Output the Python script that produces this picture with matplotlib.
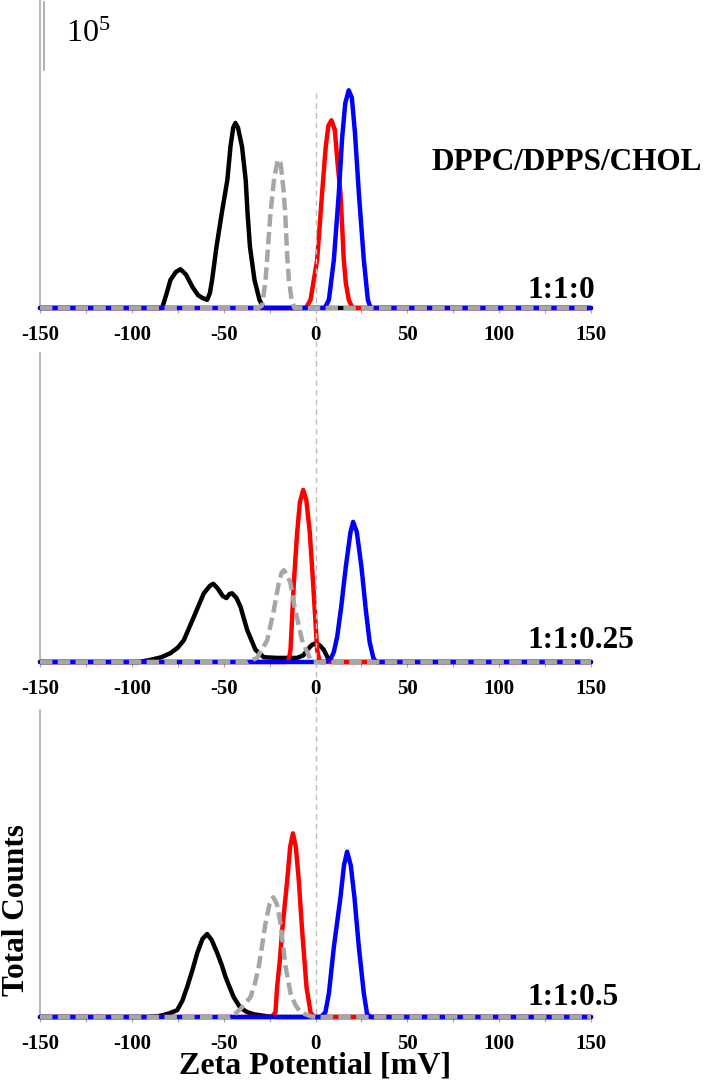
import matplotlib
matplotlib.use('Agg')
import matplotlib.pyplot as plt
from matplotlib.lines import Line2D

# ---------------- data (x: zeta potential mV, y: counts in units of 10^3) ----------------
panel_labels = ['1:1:0', '1:1:0.25', '1:1:0.5']
title_text = 'DPPC/DPPS/CHOL'
xticks_major = [-150, -100, -50, 0, 50, 100, 150]
xticks_minor = [-125, -75, -25, 25, 75, 125]

# Panel 1 (1:1:0)
p1_black_x = [-150, -83.5, -81, -79, -76, -73.5, -70.5, -67, -64, -61.7, -59, -57.5, -56.3, -53.9, -51, -48,
              -46.3, -44.8, -43.6, -42.2, -40, -38, -37, -35.7, -33.2, -30.5, -28.5, -27, 150]
p1_black_y = [0, 0, 22, 41, 53, 57, 49, 31, 19, 15, 12, 22, 41, 90, 140, 188,
              237, 265, 272, 265, 237, 188, 140, 90, 41, 12, 1, 0, 0]
p1_gray_x = [-150, -31, -29, -27.2, -24.5, -22.5, -20.5, -19, -17.5, -16.5, -15.5, -14.5, -13, -11.5, 150]
p1_gray_y = [0, 0, 4, 41, 140, 191, 218, 213, 176, 140, 81, 41, 12, 0, 0]
p1_red_x = [-150, -7, -5, -2.7, 0.9, 3.6, 5.5, 7, 8.7, 10.5, 12, 13.6, 15.4, 16.5, 18.1, 20, 21, 150]
p1_red_y = [0, 0, 1, 12, 71, 169, 235, 268, 276, 262, 213, 169, 71, 37, 12, 1, 0, 0]
p1_blue_x = [-150, 5, 7.3, 10, 12.7, 14.5, 16.2, 18.1, 19.8, 21.5, 23.6, 26.3, 28.5, 30, 150]
p1_blue_y = [0, 0, 12, 71, 169, 250, 301, 320, 309, 257, 169, 71, 12, 0, 0]

# Panel 2 (1:1:0.25)
p2_black_x = [-150, -96, -90, -84, -79, -75, -71.7, -66.3, -60.8, -57.5, -55.7, -53.5, -50.5, -48.5, -46.8,
              -45.4, -43, -40.8, -37.2, -32.7, -28.1, -20.9, -10, -6.5, -4.5, -2, 0.4, 2.5, 4.5, 6.5, 8.2, 10, 150]
p2_black_y = [0, 0, 3, 7, 13, 21, 32, 66, 101, 112, 115, 109, 97, 94, 100,
              101, 94, 81, 47, 18, 7, 6, 6, 10, 18, 25, 28, 24, 18, 7, 1, 0, 0]
p2_gray_x = [-150, -37, -31.8, -26.3, -22.7, -20, -18.5, -17.2, -15.5, -13.6, -11.4, -7.3, -2.7, -1, 150]
p2_gray_y = [0, 0, 6, 32, 76, 116, 131, 135, 128, 116, 81, 32, 3, 0, 0]
p2_red_x = [-150, -16, -14.5, -13.6, -11.8, -10, -8.5, -6.7, -5, -3.1, -1.3, 0.9, 2, 3, 150]
p2_red_y = [0, 0, 4, 18, 116, 190, 235, 253, 238, 190, 116, 18, 3, 0, 0]
p2_blue_x = [-150, 5, 8.2, 10, 11.8, 14, 16.5, 19, 20.5, 22.5, 25, 27.5, 29.5, 31.5, 33, 150]
p2_blue_y = [0, 0, 4, 15, 37, 81, 140, 190, 206, 191, 140, 74, 29, 6, 0, 0]

# Panel 3 (1:1:0.5)
p3_black_x = [-150, -92, -86, -82.6, -79, -75.3, -72.5, -69.9, -67, -64.4, -61.5, -59, -56.5, -53.5, -51,
              -49, -46.8, -44.5, -40.8, -37, -33.6, -26.3, -20.9, 150]
p3_black_y = [0, 0, 1, 3, 6, 10, 24, 44, 69, 94, 115, 122, 113, 94, 76,
              59, 44, 29, 13, 7, 4, 1, 0, 0]
p3_gray_x = [-150, -47, -45.4, -40.8, -35.4, -33, -30.9, -29, -27.2, -25, -23, -21, -19.1, -16.3, -13.6,
             -11, -8.2, -2.7, 0, 150]
p3_gray_y = [0, 0, 1, 12, 29, 49, 74, 106, 138, 166, 176, 166, 138, 74, 35,
             18, 7, 1, 0, 0]
p3_red_x = [-150, -24, -21.8, -20.9, -19.5, -18.1, -15.4, -13.8, -12.3, -10.7, -9.1, -7.3, -4.9, -2.7, -1, 150]
p3_red_y = [0, 0, 7, 44, 81, 128, 201, 250, 270, 250, 201, 128, 44, 7, 0, 0]
p3_blue_x = [-150, 3, 5.4, 7.3, 10, 13.6, 15.5, 17.2, 19.2, 21.2, 23.6, 26.3, 28.1, 30, 150]
p3_blue_y = [0, 0, 7, 35, 103, 176, 223, 243, 223, 176, 103, 35, 4, 0, 0]

scale_bar_value = 100  # 10^5 counts = 100 x 10^3

# ---------------- figure ----------------
W, H = 708, 1080
fig = plt.figure(figsize=(W / 100, H / 100), dpi=100)
SERIF = ['Liberation Serif', 'DejaVu Serif']
AXIS_GRAY = '#a3a3a3'
LW = 3.2

def fx(px):
    return px / W

def fy(py):
    return 1 - py / H

left_px, right_px = 40, 591
panel_px = [(0, 308), (353, 662), (710, 1017)]  # (top, bottom) in pixels
ymax = 308 * 1.47

panels = [
    (p1_black_x, p1_black_y, p1_gray_x, p1_gray_y, p1_red_x, p1_red_y, p1_blue_x, p1_blue_y),
    (p2_black_x, p2_black_y, p2_gray_x, p2_gray_y, p2_red_x, p2_red_y, p2_blue_x, p2_blue_y),
    (p3_black_x, p3_black_y, p3_gray_x, p3_gray_y, p3_red_x, p3_red_y, p3_blue_x, p3_blue_y),
]

axes = []
for (top, bot), data in zip(panel_px, panels):
    ax = fig.add_axes([fx(left_px), fy(bot), fx(right_px - left_px), (bot - top) / H])
    ax.set_facecolor('none')
    bx, by, gx, gy, rx, ry, ux, uy = data
    kw = dict(lw=LW, clip_on=False, solid_joinstyle='round', solid_capstyle='round')
    ax.plot(bx, by, color='black', zorder=3, **kw)
    ax.plot(rx, ry, color='#ff0000', zorder=4, **kw)
    ax.plot(ux, uy, color='#0000ff', zorder=5, **kw)
    ax.plot(gx, gy, color='#a6a6a6', lw=LW, clip_on=False, zorder=6, linestyle=(0, (2.8, 1.2)),
            dash_joinstyle='round')
    ax.set_xlim(-150, 150)
    ax.set_ylim(0, ymax * (bot - top) / 308)
    ax.set_yticks([])
    for s in ['top', 'right']:
        ax.spines[s].set_visible(False)
    ax.spines['left'].set_color(AXIS_GRAY)
    ax.spines['left'].set_linewidth(1.1)
    ax.spines['bottom'].set_color(AXIS_GRAY)
    ax.spines['bottom'].set_linewidth(1.6)
    ax.spines['bottom'].set_zorder(2)
    ax.set_xticks(xticks_major)
    ax.set_xticks(xticks_minor, minor=True)
    ax.set_xticklabels([str(t) for t in xticks_major], fontfamily=SERIF, fontweight='bold', fontsize=15)
    ax.tick_params(axis='x', which='both', direction='out', length=3.5, width=0.8, color=AXIS_GRAY, pad=9)
    axes.append(ax)

# vertical dashed line at 0 mV (spans panels, interrupted by tick labels)
x0_px = left_px + (0 + 150) / 300 * (right_px - left_px)
for y0, y1 in [(93, 322), (341, 677), (697, 1017)]:
    fig.add_artist(Line2D([fx(x0_px), fx(x0_px)], [fy(y0), fy(y1)], color='#bdbdbd', lw=1.0,
                          linestyle=(0, (4, 3)), zorder=0.5))

# scale bar 10^5
bar_len_px = scale_bar_value / 1.47
fig.add_artist(Line2D([fx(44), fx(44)], [fy(2), fy(2 + bar_len_px)], color=AXIS_GRAY, lw=1.2))
fig.text(fx(66), fy(42), r'$\mathregular{10^5}$', fontfamily=SERIF, fontsize=23, va='baseline', ha='left')

# text
fig.text(fx(432), fy(163), title_text, fontfamily=SERIF, fontweight='bold', fontsize=22.5, va='center', ha='left')
for lab, ybase in zip(panel_labels, [298, 648, 1005]):
    fig.text(fx(527), fy(ybase), lab, fontfamily=SERIF, fontweight='bold', fontsize=22.5, va='baseline', ha='left')

fig.text(fx(315), fy(1073), 'Zeta Potential [mV]', fontfamily=SERIF, fontweight='bold', fontsize=23,
         va='baseline', ha='center')
fig.text(fx(2), fy(910), 'Total Counts', fontfamily=SERIF, fontweight='bold', fontsize=22.5,
         va='center', ha='left', rotation=90)

fig.savefig('out.png', dpi=100)
